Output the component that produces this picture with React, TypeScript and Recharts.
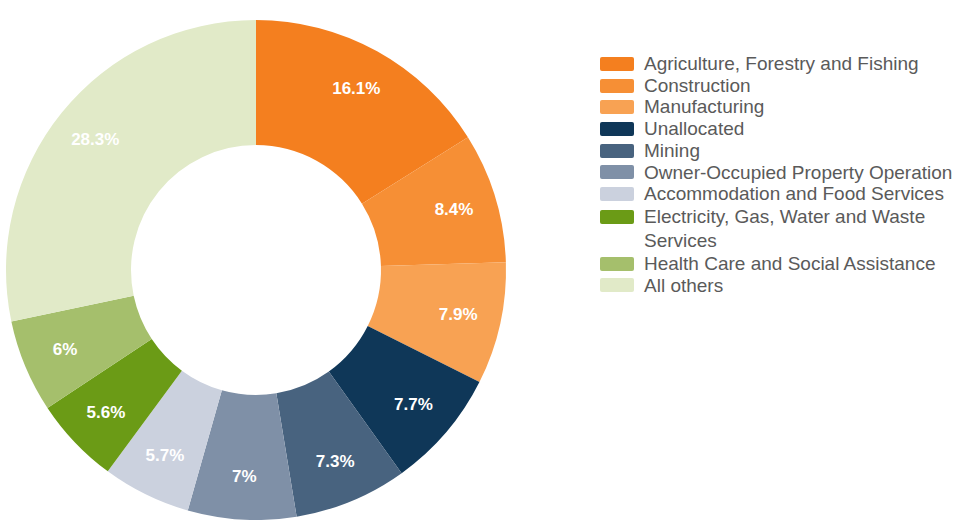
import { Pie, PieChart, Cell } from "recharts";

const sectors = [
  "Agriculture, Forestry and Fishing",
  "Construction",
  "Manufacturing",
  "Unallocated",
  "Mining",
  "Owner-Occupied Property Operation",
  "Accommodation and Food Services",
  "Electricity, Gas, Water and Waste Services",
  "Health Care and Social Assistance",
  "All others",
];

const shares = [16.1, 8.4, 7.9, 7.7, 7.3, 7, 5.7, 5.6, 6, 28.3];

const colors = [
  "#f47f1f",
  "#f68f35",
  "#f8a253",
  "#0f3758",
  "#48637f",
  "#7f90a7",
  "#cbd1de",
  "#6b9b16",
  "#a5bf6c",
  "#e1eac8",
];

const data = sectors.map((name, i) => ({ name, value: shares[i] }));

const RADIAN = Math.PI / 180;
const FONT = "'Liberation Sans', Arial, sans-serif";

function SliceLabel(props: any) {
  const { cx, cy, midAngle, value } = props;
  const r = 207;
  const x = cx + r * Math.cos(-midAngle * RADIAN);
  const y = cy + r * Math.sin(-midAngle * RADIAN);
  return (
    <text
      x={x}
      y={y}
      fill="#ffffff"
      textAnchor="middle"
      dominantBaseline="central"
      fontFamily={FONT}
      fontSize={17}
      fontWeight="bold"
    >
      {value}%
    </text>
  );
}

function LegendList() {
  return (
    <div
      style={{
        position: "absolute",
        left: 600,
        top: 53,
        width: 360,
        fontFamily: FONT,
        fontSize: 19,
        color: "#5a5a5a",
      }}
    >
      {sectors.map((name, i) => {
        const wraps = i === 7;
        const lh = wraps ? 24 : 21.7;
        return (
          <div key={name} style={{ display: "flex", alignItems: "flex-start", lineHeight: `${lh}px` }}>
            <span
              style={{
                display: "inline-block",
                flex: "0 0 34px",
                height: 14,
                marginTop: (lh - 14) / 2,
                marginRight: 10,
                borderRadius: 2,
                backgroundColor: colors[i],
              }}
            />
            <span style={{ width: wraps ? 305 : 330, whiteSpace: wraps ? "normal" : "nowrap" }}>{name}</span>
          </div>
        );
      })}
    </div>
  );
}

export default function App() {
  return (
    <div
      style={{
        position: "absolute",
        left: 0,
        top: 0,
        width: 960,
        height: 520,
        background: "#fff",
        overflow: "hidden",
      }}
    >
      <PieChart width={560} height={520} margin={{ top: 0, right: 0, bottom: 0, left: 0 }}>
        <Pie
          data={data}
          dataKey="value"
          nameKey="name"
          cx={256}
          cy={270}
          innerRadius={125}
          outerRadius={250}
          startAngle={90}
          endAngle={-270}
          stroke="none"
          label={SliceLabel}
          labelLine={false}
          isAnimationActive={false}
        >
          {data.map((d, i) => (
            <Cell key={d.name} fill={colors[i]} />
          ))}
        </Pie>
      </PieChart>
      <LegendList />
    </div>
  );
}
